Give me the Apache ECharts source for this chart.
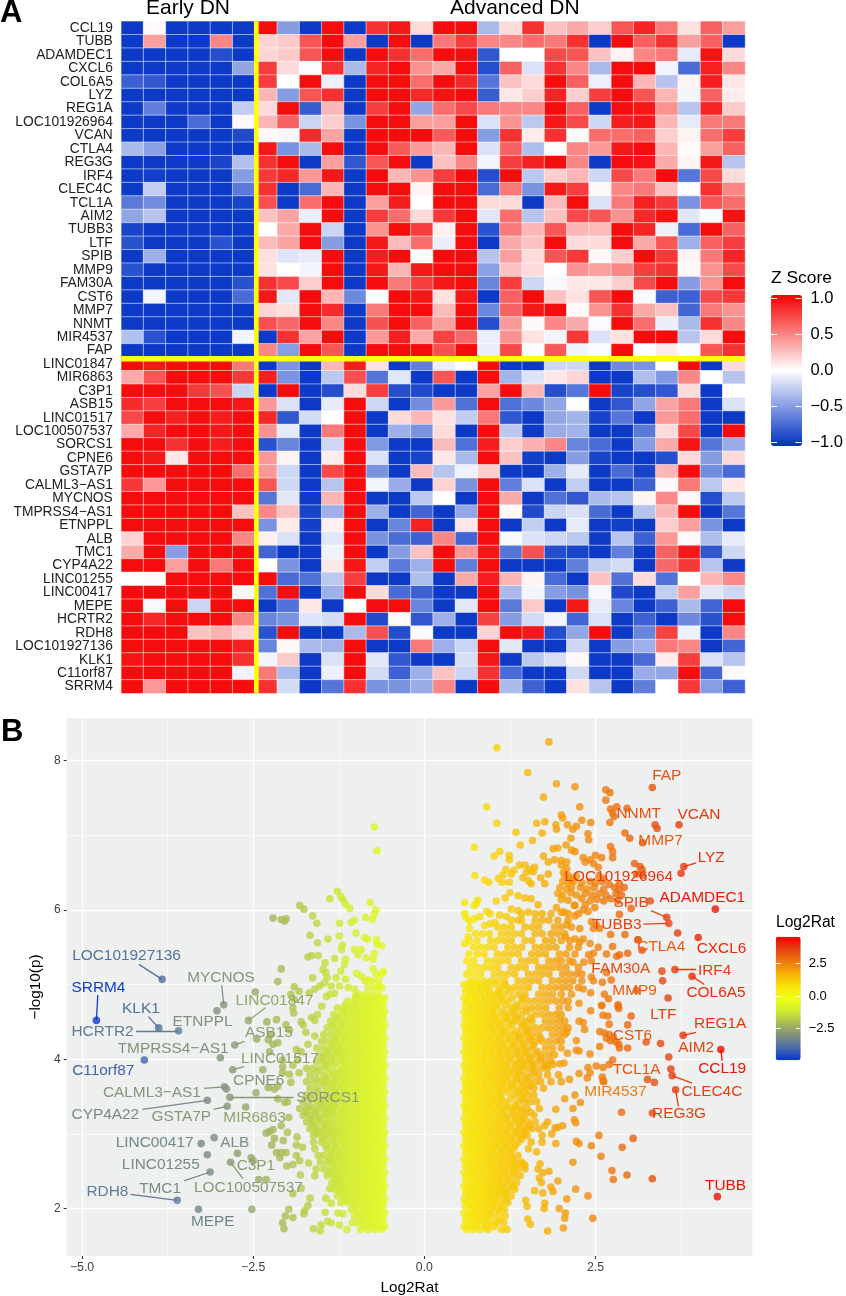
<!DOCTYPE html>
<html>
<head>
<meta charset="utf-8">
<style>
  html, body { margin: 0; padding: 0; background: #fff; }
  #main { width: 846px; height: 1296px; }
</style>
<script src="https://cdn.jsdelivr.net/npm/echarts@6/dist/echarts.min.js"></script>
</head>
<body>
<div id="main"></div>
<script>
var fontName = '"Liberation Sans", Arial, sans-serif';

// ---- panel A ----
var heatColumns = ['E1','E2','E3','E4','E5','E6','A1','A2','A3','A4','A5','A6','A7','A8','A9','A10','A11','A12','A13','A14','A15','A16','A17','A18','A19','A20','A21','A22'];
var upGenes = ['CCL19','TUBB','ADAMDEC1','CXCL6','COL6A5','LYZ','REG1A','LOC101926964','VCAN','CTLA4','REG3G','IRF4','CLEC4C','TCL1A','AIM2','TUBB3','LTF','SPIB','MMP9','FAM30A','CST6','MMP7','NNMT','MIR4537','FAP'];
var downGenes = ['LINC01847','MIR6863','C3P1','ASB15','LINC01517','LOC100507537','SORCS1','CPNE6','GSTA7P','CALML3\u2212AS1','MYCNOS','TMPRSS4\u2212AS1','ETNPPL','ALB','TMC1','CYP4A22','LINC01255','LINC00417','MEPE','HCRTR2','RDH8','LOC101927136','KLK1','C11orf87','SRRM4'];
var zTicks = [-1, -0.5, 0, 0.5, 1];

var upScores = [
  [-1,.02,-1,-1,-1,-1, 1,-.5,-1,1,-1,.85,.95,.15, 1,1,-.35,.15,.85,.25,.35,.2,.7,.9,.55,.12,.65,.4],
  [-1,.4,-1,-1,.5,-1, .18,.22,.7,1,.4,-1,1,-1, .55,.8,.5,.5,.6,.55,.85,-1,1,.65,.85,.4,.65,-1],
  [-1,-1,-1,-1,-.9,-1, .18,.22,.7,1,-1,1,.85,.6, 1,1,-.85,0,0,.75,.7,.25,.05,.5,.55,-.1,.97,.15],
  [-1,-1,-1,-1,-1,-.45, .8,.15,-.02,.85,-.35,.9,1,.45, .35,1,-.9,.65,-.15,.85,.5,-.35,1,1,-.05,-.75,.92,.5],
  [-.8,-.85,-1,-1,-1,-1, .8,0,1,-.08,-1,1,1,.6, 1,.88,-.7,.25,.15,1,.65,-.08,1,.3,-.3,.05,.93,.1],
  [-1,-1,-1,-1,-1,-1, .3,-.5,.7,.85,-1,1,1,.88, .97,1,-.82,.1,.2,.9,.2,.8,1,.7,.3,-.05,.65,.08],
  [-1,-.65,-1,-1,-1,-.25, .15,1,-.82,.3,-1,.8,1,-.45, .6,.75,.55,.5,.5,1,.65,-1,1,.95,.45,-.3,.9,.22],
  [-1,-1,-1,-.75,-1,.03, .3,.65,-.22,.2,-.55,1,1,.4, .4,1,-.15,.45,-.28,.95,.75,-.2,.93,.95,.3,-.1,.55,.55],
  [-1,-1,-1,-1,-1,-.92, .03,-.04,.87,.38,-1,1,1,1, .68,1,-.5,.85,.08,.85,.02,.6,.6,.65,.2,.05,.6,.8],
  [-.35,-.48,-1,-1,-1,-1, .95,-.55,-.35,1,-1,1,.68,.42, .3,1,-.15,.65,-.33,.01,.5,.42,.95,1,.3,.02,.4,.65],
  [-1,-1,-1,-1,-.95,-.32, .85,1,-1,.4,-.85,.7,1,-1, .25,.5,-.05,.8,.92,1,.5,-1,1,.97,.35,.04,.95,-.3],
  [-1,-.97,-1,-1,-1,-.5, .82,.88,.42,.95,-1,1,.3,.45, .8,1,-.9,1,-.28,.2,.3,-.2,.75,.55,1,-.7,.75,.15],
  [-1,-.25,-1,-1,-1,-.68, .85,-1,-.75,.3,-1,1,1,.04, 1,1,-.75,.55,-.55,.95,.8,.03,.5,.55,.25,0,.85,.5],
  [-.68,-.58,-1,-1,-1,-.95, .72,-1,.6,1,-1,.4,.93,0, 1,1,.15,.15,-1,.28,1,-.15,.55,.92,.82,-.55,.7,.6],
  [-.45,-.3,-1,-1,-1,-1, .25,.38,-.08,1,-1,.8,.6,.15, .82,1,-.12,.6,-.3,.25,.75,.7,.45,.88,.97,-.12,0,.97],
  [-.95,-1,-1,-1,-1,-1, 0,.35,1,-.22,-1,.45,1,.8, .06,1,-.88,.55,.3,.7,.3,.28,1,.9,-.07,-.75,1,.65],
  [-.88,-1,-1,-1,-.88,-1, .28,.38,1,-.5,-1,.95,.28,.6, -.08,1,-1,.35,.25,1,.15,.15,1,.35,.7,-.4,.65,.8],
  [-1,-.4,-1,-1,-1,-1, .13,-.13,-.1,1,-1,.93,1,0, 1,1,-.3,.4,.15,.7,.82,.02,.2,1,.82,.05,.55,.9],
  [-.88,-1,-1,-1,-1,-1, .12,.01,-.05,1,-1,.95,.3,.95, 1,1,-.48,.25,.15,0,.45,.4,.5,.8,.85,.03,.45,.75],
  [-1,-1,-1,-1,-1,-.88, .85,.75,.2,1,-1,1,.55,.8, .95,1,-.62,.8,-.2,-.03,.1,.1,.2,.75,1,-.5,.45,1],
  [-1,-.05,-1,-1,-1,-.75, .95,-.12,1,.3,-.6,0,1,.95, .12,.95,-1,.65,1,.25,.12,.7,1,-.02,-.8,-.8,.75,.82],
  [-1,-1,-1,-1,-1,-1, .18,.14,1,.87,-1,.55,1,1, .28,1,-.6,.65,.95,1,.02,.45,.85,.35,.25,-.78,.55,.45],
  [-1,-1,-1,-1,-1,-1, .72,.62,1,.5,-1,.72,1,.65, .4,1,-.9,.42,.03,.5,.35,-.02,1,.6,-.08,-.35,.85,.5],
  [-.32,-.88,-1,-1,-1,-.05, -1,.85,.38,1,-1,.42,.92,.35, .78,.62,-.08,.45,.12,-.05,.82,-.15,.12,1,1,-.3,.15,1],
  [-1,-1,-1,-1,-1,-1, .5,-.5,1,.7,-1,1,1,1, .72,1,-.08,.75,-.02,.68,-.06,-.02,1,0,.08,-.02,.7,.85]
];
var downScores = [
  [1,.95,1,1,1,.55, -1,-.55,-1,.3,.93,.12,-1,-.65, -.08,-.01,1,-1,-1,-.2,-.2,-1,-.6,-.55,0,1,-1,.15],
  [.35,.7,1,1,1,.82, .92,-.55,-1,-.28,.72,-.7,-.12,-1, .7,-1,1,-.38,-.13,.1,.18,-1,-1,-.33,-.52,.5,0,-.3],
  [1,1,1,.82,.72,-.22, -1,1,-1,-.9,.15,.8,-.9,-.92, -1,-1,.38,1,.3,-.9,-.7,1,-.95,-.9,-.85,.15,-1,0],
  [.87,.8,1,1,1,.95, .42,-.15,-1,-.1,1,-.2,-1,-.58, .42,-.72,1,-.72,-.6,-.45,0,-1,-.85,-.45,.38,.55,-1,-.15],
  [.75,1,.92,1,.93,1, .88,-.85,-.18,0,1,-1,.15,.3, .12,-.25,.55,-.85,-1,-.45,-.38,-.95,-.7,-1,.42,.6,-1,-1],
  [.35,.9,1,1,.95,1, .45,-.1,-1,.55,1,-1,-.4,-.55, .15,-1,1,-.28,-1,-.42,-.38,-1,-1,-.68,.15,.75,-1,1],
  [1,1,.85,1,.93,1, -.88,-.62,-1,-.2,1,-.52,-1,-1, .28,-.72,.93,.2,.33,.5,-.62,-.75,-1,-.5,.35,.97,-.7,-.42],
  [1,.95,.1,1,1,1, .42,.05,-1,.08,1,-.15,-1,-.95, .1,-.35,1,.25,-.97,-1,-.5,-.95,-1,-1,-.9,.15,-.5,.15],
  [1,1,1,1,1,.6, .42,-.2,-1,.75,1,-.55,-1,.28, -.3,-.07,.2,-1,-1,-.4,-.1,-1,-.75,-.95,.3,1,-.58,-.75],
  [.82,.42,1,1,1,1, .7,-.2,-1,-.3,1,-.05,-.42,-1, .18,-.55,1,-.65,-.15,-1,-.25,-1,-1,-.8,.03,.55,-.28,.1],
  [1,1,1,1,1,1, -.7,-.12,-1,.3,1,-1,-1,-.28, 0,-1,1,.35,-1,-.72,-.85,-.35,-.3,.04,.48,.03,-.9,-.28],
  [1,1,1,1,1,.25, .5,.25,-.95,-.4,1,-.4,-1,-.78, -1,-.45,1,.02,-.92,-.22,-.15,-.75,-1,-.3,.3,1,-1,-.7],
  [1,1,1,1,1,1, -.55,.08,-.97,.06,1,-1,-.62,.92, -1,.1,1,-1,-.25,-1,-.1,-1,-.97,-1,.2,.4,-.55,-1],
  [.18,1,1,1,1,.5, .06,-.15,-1,-.12,1,-.55,-.75,-.8, .5,-.78,1,-.03,-.15,-.2,-.28,-1,-.3,-.8,.42,.02,-.33,-.1],
  [.35,1,-.5,1,1,1, -.78,-1,-1,-.06,1,-1,-.5,.25, 1,.42,.95,-.7,.72,-.9,-.95,-1,-.65,-1,.65,.95,-.85,-.2],
  [1,1,.4,1,.55,1, 0,-.55,-1,.1,.95,-.25,-.68,-.4, 1,-.65,1,-1,-1,-1,-.65,-.25,-.18,-1,.62,.82,-.3,-1],
  [0,.02,1,1,1,1, 1,-.75,-.72,-.28,.8,-1,-1,-.33, -1,.35,.93,.3,.05,-.75,-1,.25,-.72,.15,-.72,0,.3,.48],
  [1,1,1,1,1,.03, -.72,1,-1,-.4,1,.15,-.75,-.8, -1,-1,1,-.35,-.05,-.5,-.55,-.03,-.92,-1,-.25,.4,-.12,-.2],
  [1,-.03,1,-.22,1,1, -1,-.72,.1,-1,0,1,1,-.62, -1,-.12,1,-.68,.22,-1,.95,-.1,-.62,-1,-.8,-.35,-.78,1],
  [1,.88,1,1,1,.5, -.62,-.55,-.13,-.18,1,-.92,.02,-.85, -.4,-1,.78,-.5,-.18,-.05,-.78,-.15,-1,-.8,-1,-.6,-.88,1],
  [1,1,1,.25,.32,.18, -.88,1,-1,-1,-.35,.72,-.9,.02, -1,-1,.18,1,.95,-.9,-.45,1,-1,-.62,.78,-.07,-1,.5],
  [1,1,1,1,1,.92, -.62,.03,-.35,-.38,1,-1,-1,.55, -.4,-.22,1,-.12,-1,-1,-.2,-1,-.5,-.4,.55,.5,-1,-.78],
  [.97,1,1,1,1,.85, -.05,.22,-1,-.15,1,-.12,-.85,-1, -1,-.17,.95,-1,-.28,-.17,.03,-1,-1,-.75,.08,.8,-.15,-.3],
  [1,1,1,1,1,-.06, .55,-.35,-1,-.07,1,-.18,-.8,-.4, .25,-.22,.85,-.75,-1,-1,-.2,-1,-1,-.42,-.45,1,-.78,.03],
  [1,.42,1,1,1,1, .85,-.18,-1,-.7,.85,-.55,-.55,-.42, .5,-1,1,-.35,-.8,-1,.12,-.3,-1,-.65,0,.82,-.5,-.8]
];

// ---- panel B: labelled genes ----
var labelNames = ['LOC101927136','SRRM4','KLK1','HCRTR2','ETNPPL','MYCNOS','LINC01847','ASB15','TMPRSS4\u2212AS1','LINC01517','C11orf87','CPNE6','CALML3\u2212AS1','SORCS1','CYP4A22','GSTA7P','MIR6863','LINC00417','ALB','LINC01255','C3P1','LOC100507537','TMC1','RDH8','MEPE','FAP','NNMT','MMP7','VCAN','LYZ','LOC101926964','ADAMDEC1','SPIB','TUBB3','CTLA4','CXCL6','FAM30A','IRF4','COL6A5','MMP9','LTF','REG1A','CST6','AIM2','CCL19','TCL1A','CLEC4C','MIR4537','REG3G','TUBB'];
var labelX = [-3.83,-4.79,-3.88,-3.59,-3.03,-2.93,-2.57,-2.77,-2.98,-2.80,-4.09,-2.89,-2.92,-2.84,-3.17,-2.88,-2.61,-3.26,-3.07,-3.17,-2.73,-2.83,-3.13,-3.61,-3.30,3.33,3.37,3.19,3.72,3.79,3.75,4.25,3.54,3.57,3.18,4.0,3.47,3.66,3.91,3.10,3.56,3.78,3.24,3.57,4.33,3.26,3.62,2.61,3.67,4.28];
var labelY = [5.07,4.52,4.42,4.38,4.65,4.73,4.52,4.19,4.02,3.86,3.99,3.60,3.63,3.49,3.45,3.37,3.36,2.87,2.95,2.72,2.74,2.62,2.49,2.11,1.99,7.64,7.14,6.90,7.14,6.58,6.49,6.01,5.90,5.82,5.46,5.63,5.18,5.20,5.11,4.92,4.82,4.32,4.23,4.03,4.13,3.73,3.78,3.71,3.59,2.16];
var textX = [-4.35,-4.76,-4.14,-4.70,-3.24,-2.97,-2.19,-2.27,-3.67,-2.11,-4.69,-2.42,-3.98,-1.41,-4.66,-3.55,-2.48,-3.94,-2.77,-3.85,-2.46,-2.57,-3.86,-4.63,-3.09,3.54,3.13,3.45,4.01,4.19,2.84,4.06,3.02,2.81,3.46,4.34,2.87,4.24,4.26,3.07,3.49,4.32,3.04,3.97,4.35,3.10,4.20,2.79,3.72,4.40];
var textY = [5.38,4.96,4.67,4.37,4.50,5.09,4.79,4.35,4.14,4.0,3.84,3.71,3.55,3.49,3.26,3.23,3.21,2.88,2.88,2.59,2.58,2.28,2.26,2.23,1.83,7.79,7.29,6.93,7.28,6.70,6.45,6.16,6.10,5.80,5.50,5.48,5.21,5.18,4.89,4.92,4.60,4.48,4.31,4.16,3.87,3.86,3.57,3.57,3.27,2.30];
// where each leader line leaves its label, null when there is none
var leadX = [-4.17,-4.77,-4.03,-4.21,null,-2.96,-2.32,-2.63,null,-2.63,null,null,-3.22,-1.91,-4.12,-3.08,null,null,null,null,null,-2.65,-3.51,-4.29,null,null,null,null,null,3.97,null,null,3.31,3.20,null,null,null,3.97,4.09,null,null,3.97,null,null,4.35,null,3.91,null,3.71,null];
var leadY = [5.27,4.86,4.57,4.38,null,4.99,4.69,4.24,null,3.90,null,null,3.61,3.49,3.33,3.33,null,null,null,null,null,2.40,2.37,2.19,null,null,null,null,null,6.63,null,null,5.99,5.81,null,null,null,5.20,5.0,null,null,4.36,null,null,3.98,null,3.68,null,3.37,null];

// ---- panel B: scattered points read one by one, [log2 ratio, -log10 p] ----
var loosePoints = [
  [1.06,8.17],[1.82,8.25],[1.51,7.84],[1.93,7.69],[2.20,7.65],[1.74,7.51],[2.65,7.61],[2.71,7.57],[2.65,7.47],[2.27,7.38],[.91,7.38],[1.06,7.16],
  [2.72,7.35],[2.81,7.38],[2.96,7.36],[2.75,7.30],[2.77,7.25],[2.0,7.27],[2.02,7.23],[1.64,7.16],[1.76,7.18],[1.92,7.14],[1.93,7.08],[2.09,7.14],[2.22,7.12],[2.17,7.08],
  [2.30,7.2],[2.43,7.17],[2.71,7.17],[3.40,7.09],[1.34,7.04],[1.72,7.03],[2.39,7.02],[2.40,6.94],[2.93,7.03],[3.0,6.96],[2.14,6.96],[1.58,6.93],[1.40,6.87],[.73,6.84],
  [1.10,6.78],[1.02,6.72],[1.24,6.73],[1.24,6.67],[2.72,6.85],[2.75,6.78],[2.75,6.7],[1.88,6.82],[1.95,6.83],[2.07,6.87],[2.15,6.8],[2.2,6.78],
  [1.74,6.72],[1.81,6.64],[1.9,6.67],[2.0,6.66],[2.08,6.64],[2.32,6.7],[2.42,6.67],[2.5,6.73],[2.59,6.7],[2.35,6.64],[2.47,6.62],[2.54,6.57],
  [3.07,6.62],[3.15,6.58],[3.18,6.54],[3.1,6.48],[3.19,6.46],[1.39,6.6],[1.47,6.6],[1.31,6.53],[1.19,6.54],[1.15,6.47],[1.61,6.57],[1.59,6.51],
  [.74,6.46],[.88,6.40],[.94,6.37],[1.08,6.42],[1.14,6.37],[1.27,6.48],[1.24,6.37],[1.49,6.5],[1.54,6.54],[1.44,6.43],[1.52,6.39],[1.56,6.35],[1.7,6.43],[1.81,6.48],[1.76,6.35],
  [2.0,6.6],[2.08,6.55],[2.03,6.5],[2.1,6.46],[2.15,6.4],[2.22,6.45],[3.30,6.12],
  [2.05,6.45],[2.12,6.43],[2.55,6.45],[2.62,6.42],[2.02,6.38],[2.1,6.36],[2.18,6.38],[2.3,6.36],[2.42,6.38],[2.5,6.36],[2.6,6.38],[2.7,6.34],[2.85,6.35],
  [1.98,6.3],[2.08,6.28],[2.15,6.3],[2.28,6.3],[2.38,6.28],[2.48,6.3],[2.62,6.28],[2.78,6.3],[2.84,6.27],[2.92,6.3],[1.95,6.22],[2.02,6.2],[2.14,6.23],[2.22,6.2],[2.35,6.22],[2.45,6.2],[2.55,6.22],[2.65,6.2],[2.8,6.22],[2.88,6.2],
  [2.0,6.14],[2.1,6.13],[2.3,6.15],[2.42,6.12],[2.52,6.14],[2.62,6.12],[2.72,6.15],[2.82,6.12],
  [.59,6.1],[.78,6.13],[.73,6.06],[.76,6.09],[.91,5.98],[.96,5.95],[.59,5.95],[.61,5.9],[.66,5.85],[.73,5.88],[.81,5.91],[.66,5.75],[.75,5.68],[.64,5.64],[.59,5.55],[.66,5.58],
  [.88,5.79],[.96,5.81],[1.03,5.83],[1.1,5.93],[1.2,5.91],[1.05,6.12],[1.18,6.16],[1.25,6.23],[1.37,6.19],[1.47,6.16],[1.56,6.15],[1.27,6.01],[1.37,5.99],[1.52,5.97],[1.66,6.07],[1.93,6.03],[2.2,6.06],[2.04,5.97],
  [2.49,6.03],[2.19,6.06],[2.0,5.97],[2.35,6.07],[2.32,6.0],[2.39,5.98],[2.44,5.84],[2.51,5.8],[2.47,5.75],[2.56,5.75],[2.08,5.8],[2.27,5.75],[2.2,5.92],[2.06,5.64],[2.2,5.61],[2.27,5.57],[2.42,5.55],[2.47,5.42],[2.17,5.3],[2.0,5.32],[2.32,5.61],
  [2.85,5.94],[3.02,6.02],[2.93,5.67],[2.72,5.67],[3.12,5.6],[2.75,5.51],[2.97,5.42],[2.66,5.41],[2.81,5.38],[2.85,5.4],[2.54,5.5],[2.4,5.4],[2.44,5.32],[2.33,5.3],[2.44,5.1],[2.47,5.05],[2.6,5.03],[2.73,5.06],[2.66,5.16],[2.63,4.87],[2.69,4.81],[2.83,4.73],[2.59,4.72],[2.43,4.89],[2.32,4.94],[2.26,4.75],
  [3.48,5.05],[3.70,5.69],[3.12,5.6],[3.45,4.21],[3.36,3.69],[3.60,3.87],[3.33,3.28],[2.88,3.29],
  [3.02,4.58],[2.97,4.46],[2.7,4.47],[2.85,4.15],[2.97,4.15],[2.56,4.17],[2.42,4.07],[2.75,3.99],[2.7,3.93],[2.51,3.91],[2.61,3.89],[2.39,3.89],[2.42,3.82],[2.26,3.81],[2.12,3.73],[2.0,3.7],[2.38,3.75],[2.6,3.76],[2.62,3.7],[2.22,4.12],[2.26,4.11],[2.09,4.08],[2.04,3.95],[1.98,3.94],[1.88,3.93],[1.77,3.91],
  [2.08,4.36],[2.22,4.25],[2.32,4.49],[2.34,4.4],[2.26,4.51],[2.43,4.65],[2.61,4.59],[2.68,4.58],[2.83,4.71],[2.84,4.68],[2.59,4.72],[2.56,4.37],[2.63,4.35],[2.7,4.33],[2.76,4.3],[2.66,4.28],[2.72,4.25],[2.8,4.23],[2.84,4.2],
  [2.55,2.98],[3.05,2.94],[2.89,2.82],[2.44,2.84],[2.58,2.7],[2.22,2.9],[2.26,2.87],[2.74,2.51],[2.96,2.45],[3.33,2.4],[2.76,2.39],[2.21,2.26],[2.39,2.17],[2.08,2.13],[2.46,1.87],[1.97,2.0],[2.06,1.94],[2.05,1.87],[1.8,1.7],[2.03,1.74],[1.75,2.0],[1.51,1.86],[1.55,1.79],[1.48,2.11],[1.5,2.03],
  [2.19,3.19],[2.21,3.15],[2.02,3.11],[1.91,3.08],[1.86,3.0],[2.2,3.52],[2.28,3.42],[2.05,3.47],[1.92,3.33],[2.17,3.34],[1.76,3.11],[1.95,3.09],[1.92,2.87],[2.17,2.62],[1.95,2.37],[1.82,2.5],[1.68,2.41],[1.71,2.35],[1.85,2.29],[1.61,2.24],[1.73,2.21],[1.88,2.23],[1.76,2.07],[1.64,2.76],[1.69,2.6],[1.66,2.53],[1.73,2.48],[1.44,2.6],[1.47,2.58],
  [-1.27,6.25],[-1.38,6.15],[-1.22,6.18],[-1.19,6.14],[-1.15,6.08],[-1.09,6.02],[-.79,6.1],[-.71,6.0],[-.73,5.94],[-.86,5.9],[-.76,5.87],[-1.82,6.06],[-1.76,6.01],[-1.63,5.92],[-1.57,5.82],[-2.21,5.89],[-2.09,5.87],[-2.04,5.85],[-2.02,5.88],
  [-1.24,5.82],[-1.07,5.83],[-1.02,5.86],[-1.0,5.69],[-.87,5.63],[-.83,5.61],[-1.67,5.66],[-1.56,5.56],[-1.41,5.61],[-1.24,5.65],[-1.2,5.53],[-1.21,5.47],[-.7,5.6],[-.69,5.54],[-.62,5.52],[-.73,7.11],[-.69,6.79],
  [-1.02,5.47],[-.92,5.47],[-.97,5.4],[-.85,5.36],[-.73,5.42],[-.75,5.34],[-1.7,5.37],[-1.65,5.39],[-1.55,5.39],[-1.31,5.35],[-1.15,5.34],[-1.17,5.27],[-1.45,5.29],[-2.09,5.21],[-2.14,5.04],[-1.48,5.2],[-1.44,5.16],[-1.42,5.09],[-1.63,5.09],
  [-1.22,5.18],[-1.29,5.09],[-1.15,5.07],[-1.11,4.96],[-.99,5.15],[-.92,5.11],[-.82,5.06],[-.75,5.21],[-.6,5.17],[-.66,4.97],[-1.46,5.02],[-1.53,4.98],[-1.6,4.94],[-1.68,4.89],[-1.36,4.98],[-1.24,4.98],
  [-1.9,4.97],[-1.83,4.91],[-1.95,4.87],[-1.9,4.8],[-1.92,4.69],[-1.91,4.62],[-1.38,4.87],[-1.31,4.88],[-1.43,4.84],[-1.02,4.94],[-1.0,4.85],[-2.47,4.9],[-1.5,4.71],[-1.56,4.6],
  [-2.3,4.5],[-2.16,4.53],[-2.02,4.46],[-1.97,4.39],[-1.8,4.5],[-1.77,4.46],[-2.28,4.26],[-2.24,4.33],[-2.21,4.2],[-2.14,4.22],[-2.45,4.27],[-2.26,4.1],[-2.07,3.99],[-2.07,3.9],[-1.92,3.92],[-1.85,3.99],[-1.8,4.1],[-1.87,4.13],[-1.7,4.2],[-1.73,4.36],[-1.6,4.31],[-1.6,4.52],[-1.65,4.56],
  [-2.36,3.86],[-2.28,3.62],[-2.19,3.6],[-2.14,3.64],[-2.07,3.82],[-1.97,3.8],[-1.95,3.69],[-1.83,3.82],
  [-2.46,3.55],[-2.14,3.47],[-2.04,3.42],[-2.0,3.43],[-1.98,3.22],[-2.09,3.11],[-2.31,3.01],[-2.26,3.03],[-2.21,3.06],[-2.19,2.94],[-2.23,2.85],[-2.06,2.91],[-2.0,3.02],[-1.86,2.96],[-1.87,2.85],[-1.78,2.82],[-2.16,2.75],[-2.09,2.75],[-2.11,2.68],[-2.02,2.75],[-2.01,2.57],[-1.92,2.59],[-1.87,2.71],[-1.82,2.64],[-1.69,2.61],[-1.81,2.45],[-2.53,2.68],[-2.5,2.64],[-2.42,2.39],[-2.31,2.39],
  [-1.92,2.2],[-1.8,2.27],[-2.52,1.99],[-1.98,1.99],[-1.67,2.14],[-1.7,2.04],[-1.75,1.97],[-1.76,1.93],[-1.92,1.88],[-2.03,1.9],[-2.07,1.81],[-2.05,1.73],[-1.62,1.73],[-1.52,1.7],[-1.51,1.78],[-1.45,1.95],[-1.41,1.83],[-1.36,1.81],[-1.24,1.78],[-1.13,1.72],[-1.26,1.94],[-1.19,1.93],[-1.44,2.14],[-1.38,2.27],[-1.36,2.07]
];

// the packed middle of the plot, read as rows: [-log10 p, [log2 ratios along that row]]
var denseRight = [
  [1.72,[.62,.72,.82,.93,1.13,1.21]],
  [1.81,[.67,.77,.87,.97,1.06,1.16]],
  [1.9,[.62,.72,.82,.92,1.02,1.18]],
  [1.99,[.67,.77,.87,.97,1.07,1.17]],
  [2.08,[.62,.72,.82,.92,1.02,1.12,1.22]],
  [2.17,[.67,.77,.87,.97,1.07,1.17,1.27]],
  [2.26,[.62,.72,.82,.92,1.02,1.12,1.22,1.32]],
  [2.35,[.67,.77,.87,.97,1.07,1.17,1.27,1.35]],
  [2.44,[.62,.72,.82,.92,1.02,1.12,1.22,1.32,1.4]],
  [2.53,[.67,.77,.87,.97,1.07,1.17,1.27,1.37,1.47]],
  [2.62,[.62,.72,.82,.92,1.02,1.12,1.22,1.32,1.42]],
  [2.71,[.67,.77,.87,.97,1.07,1.17,1.27,1.37]],
  [2.8,[.62,.72,.82,.92,1.02,1.12,1.22,1.3,1.52]],
  [2.89,[.67,.77,.87,.97,1.07,1.17,1.27,1.37,1.56,1.72]],
  [2.98,[.62,.72,.82,.92,1.02,1.12,1.22,1.32,1.42,1.5,1.72]],
  [3.07,[.67,.77,.87,.97,1.07,1.17,1.27,1.37,1.47,1.57,1.67]],
  [3.16,[.62,.72,.82,.92,1.02,1.12,1.22,1.32,1.42,1.52,1.62,1.8]],
  [3.25,[.67,.77,.87,.97,1.07,1.17,1.27,1.37,1.47,1.6]],
  [3.34,[.62,.72,.82,.92,1.02,1.12,1.22,1.32,1.42,1.5,1.68]],
  [3.43,[.67,.77,.87,.97,1.07,1.17,1.37,1.47,1.55,1.64]],
  [3.52,[.62,.72,.82,.92,1.02,1.12,1.32,1.42,1.52,1.6]],
  [3.61,[.67,.77,.87,.97,1.07,1.17,1.27,1.37,1.5,1.6,1.74]],
  [3.7,[.62,.72,.82,.92,1.02,1.12,1.22,1.32,1.42,1.52,1.62,1.7,1.85]],
  [3.79,[.67,.77,.87,.97,1.07,1.17,1.27,1.37,1.47,1.57,1.67,1.8,1.96]],
  [3.88,[.62,.72,.82,.92,1.02,1.12,1.22,1.32,1.42,1.52,1.62,1.72,1.8]],
  [3.97,[.67,.77,.87,.97,1.07,1.17,1.27,1.37,1.47,1.57,1.67,1.77,1.85]],
  [4.06,[.62,.72,.82,.92,1.02,1.12,1.22,1.32,1.42,1.52,1.62,1.72,1.82,1.9]],
  [4.15,[.67,.77,.87,.97,1.07,1.17,1.27,1.37,1.47,1.57,1.77,1.87,2.0]],
  [4.24,[.62,.72,.82,.92,1.02,1.12,1.22,1.32,1.42,1.52,1.62,1.72,1.82,1.92,2.0]],
  [4.33,[.67,.77,.87,.97,1.07,1.17,1.27,1.37,1.47,1.57,1.67,1.87,1.97,2.05]],
  [4.42,[.62,.72,.82,.92,1.02,1.12,1.22,1.42,1.52,1.62,1.72,1.82,1.92,2.02,2.1]],
  [4.51,[.67,.77,.87,.97,1.07,1.17,1.27,1.37,1.47,1.57,1.77,1.87,1.97,2.05]],
  [4.6,[.62,.72,.82,.92,1.02,1.12,1.22,1.32,1.42,1.62,1.72,1.82,1.92,2.0]],
  [4.69,[.67,.77,.87,.97,1.07,1.27,1.37,1.47,1.57,1.67,1.77,1.97,2.1]],
  [4.78,[.62,.72,.82,.92,1.02,1.12,1.22,1.42,1.52,1.62,1.72,1.82,1.92,2.02,2.1]],
  [4.87,[.67,.77,.87,.97,1.07,1.17,1.37,1.47,1.67,1.77,1.87,2.0,2.15]],
  [4.96,[.62,.72,.82,.92,1.12,1.22,1.32,1.42,1.52,1.72,1.82,1.92,2.02,2.12,2.25]],
  [5.05,[.67,.77,.87,.97,1.07,1.17,1.37,1.47,1.57,1.67,1.87,1.97,2.07,2.17,2.3]],
  [5.14,[.62,.72,.82,1.02,1.12,1.22,1.32,1.52,1.62,1.72,1.82,2.02,2.12,2.22,2.3]],
  [5.23,[.67,.77,.87,.97,1.07,1.27,1.37,1.47,1.67,1.77,1.87,1.97,2.07,2.25]],
  [5.32,[.62,.72,.92,1.02,1.12,1.22,1.42,1.52,1.62,1.82,1.92,2.12]],
  [5.41,[.65,.77,.87,1.07,1.17,1.27,1.37,1.57,1.67,1.77,1.97,2.07,2.2]],
  [5.5,[.72,.82,.92,1.02,1.22,1.32,1.42,1.62,1.72,1.82,1.92,2.12,2.25]],
  [5.59,[.77,.97,1.07,1.17,1.27,1.47,1.57,1.77,1.87,2.0,2.12]],
  [5.68,[.85,.95,1.12,1.22,1.32,1.42,1.62,1.72,1.85,1.95,2.05]],
  [5.77,[1.07,1.17,1.27,1.47,1.57,1.67,1.9,2.0,2.15]],
  [5.86,[1.27,1.37,1.42,1.62,1.72,1.82,1.95,2.1]],
  [5.95,[1.42,1.62,1.72,1.85,2.1,2.25]],
  // second pass between the rows above
  [1.76,[.58,.65,.75,.9,1.02]],
  [1.85,[.6,.7,.8,.91,1.1]],
  [1.94,[.58,.68,.76,.86,.96,1.1]],
  [2.03,[.6,.7,.79,.89,1.0,1.12]],
  [2.12,[.58,.65,.75,.84,.93,1.04,1.2]],
  [2.21,[.6,.7,.78,.88,.97,1.09,1.18]],
  [2.3,[.58,.67,.76,.86,.95,1.05,1.15,1.29]],
  [2.39,[.6,.7,.79,.9,1.0,1.1,1.22]],
  [2.48,[.58,.66,.75,.85,.96,1.06,1.17,1.3]],
  [2.57,[.6,.7,.8,.9,1.0,1.12,1.24,1.34]],
  [2.66,[.58,.67,.78,.87,.97,1.08,1.18,1.3]],
  [2.75,[.6,.7,.8,.9,1.01,1.13,1.25]],
  [2.84,[.58,.67,.77,.86,.96,1.06,1.18,1.33]],
  [2.93,[.6,.7,.8,.91,1.03,1.14,1.26,1.42]],
  [3.02,[.58,.66,.76,.86,.97,1.08,1.2,1.35,1.47]],
  [3.11,[.6,.7,.81,.9,1.02,1.12,1.25,1.4,1.53]],
  [3.2,[.58,.68,.77,.87,.97,1.09,1.2,1.34,1.44]],
  [3.29,[.6,.7,.8,.92,1.03,1.15,1.29,1.42,1.55]],
  [3.38,[.58,.67,.77,.88,.98,1.1,1.22,1.33]],
  [3.47,[.6,.7,.8,.91,1.02,1.12,1.26,1.43]],
  [3.56,[.58,.67,.78,.87,.97,1.09,1.22,1.37,1.46]],
  [3.65,[.6,.7,.8,.9,1.02,1.14,1.28,1.44,1.55]],
  [3.74,[.58,.67,.77,.88,.98,1.1,1.2,1.35,1.5]],
  [3.83,[.6,.7,.8,.92,1.03,1.15,1.26,1.38,1.6]],
  [3.92,[.58,.68,.78,.87,.97,1.08,1.19,1.34,1.45,1.58]],
  [4.01,[.6,.7,.81,.9,1.02,1.13,1.25,1.4,1.54,1.7]],
  [4.1,[.58,.67,.77,.88,.98,1.1,1.22,1.36,1.48,1.65]],
  [4.19,[.6,.7,.8,.92,1.03,1.15,1.3,1.44,1.6]],
  [4.28,[.58,.68,.78,.87,.97,1.1,1.24,1.38,1.55,1.7]],
  [4.37,[.6,.7,.8,.9,1.02,1.15,1.33,1.5]],
  [4.46,[.58,.67,.78,.88,.98,1.1,1.28,1.45]],
  [4.55,[.6,.7,.81,.92,1.04,1.2,1.34,1.55]],
  [4.64,[.58,.68,.78,.88,1.0,1.16,1.3,1.5]],
  [4.73,[.6,.7,.8,.92,1.04,1.18,1.34]],
  [4.82,[.58,.66,.76,.88,1.0,1.12,1.28,1.44]],
  [4.91,[.6,.7,.82,.95,1.08,1.26]],
  [5.0,[.58,.68,.78,.9,1.02,1.18]]
];
var denseLeft = [
  [1.72,[-.62,-.72,-.82,-.93]],
  [1.81,[-.67,-.77,-.87,-.97,-1.05]],
  [1.9,[-.62,-.72,-.82,-.92,-1.02]],
  [1.99,[-.67,-.77,-.87,-.97,-1.07]],
  [2.08,[-.62,-.72,-.82,-.92,-1.02,-1.12,-1.22]],
  [2.17,[-.67,-.77,-.87,-.97,-1.07,-1.17,-1.27]],
  [2.26,[-.62,-.72,-.82,-.92,-1.02,-1.12,-1.22,-1.31]],
  [2.35,[-.67,-.77,-.87,-.97,-1.07,-1.17,-1.27,-1.35]],
  [2.44,[-.62,-.72,-.82,-.92,-1.02,-1.12,-1.22,-1.32,-1.42,-1.6]],
  [2.53,[-.67,-.77,-.87,-.97,-1.07,-1.17,-1.27,-1.37,-1.47,-1.58]],
  [2.62,[-.62,-.72,-.82,-.92,-1.02,-1.12,-1.22,-1.32,-1.42,-1.52]],
  [2.71,[-.67,-.77,-.87,-.97,-1.07,-1.17,-1.27,-1.37,-1.47,-1.55]],
  [2.8,[-.62,-.72,-.82,-.92,-1.02,-1.12,-1.22,-1.32,-1.42,-1.6]],
  [2.89,[-.67,-.77,-.87,-.97,-1.07,-1.17,-1.27,-1.37,-1.5,-1.62]],
  [2.98,[-.62,-.72,-.82,-.92,-1.02,-1.12,-1.22,-1.32,-1.42,-1.52,-1.62]],
  [3.07,[-.67,-.77,-.87,-.97,-1.07,-1.17,-1.27,-1.37,-1.47,-1.57,-1.67]],
  [3.16,[-.62,-.72,-.82,-.92,-1.02,-1.12,-1.22,-1.32,-1.42,-1.52,-1.62,-1.72]],
  [3.25,[-.67,-.77,-.87,-.97,-1.07,-1.17,-1.27,-1.37,-1.47,-1.57,-1.67,-1.77]],
  [3.34,[-.62,-.72,-.82,-.92,-1.02,-1.12,-1.22,-1.32,-1.42,-1.52,-1.62,-1.72,-1.82]],
  [3.43,[-.67,-.77,-.87,-.97,-1.07,-1.17,-1.27,-1.37,-1.47,-1.57,-1.77]],
  [3.52,[-.62,-.72,-.82,-.92,-1.02,-1.12,-1.22,-1.32,-1.42,-1.62,-1.72]],
  [3.61,[-.67,-.77,-.87,-.97,-1.07,-1.17,-1.27,-1.37,-1.57,-1.67]],
  [3.7,[-.62,-.72,-.82,-.92,-1.02,-1.12,-1.22,-1.32,-1.42,-1.52,-1.62,-1.72]],
  [3.79,[-.67,-.77,-.87,-.97,-1.07,-1.17,-1.27,-1.37,-1.47,-1.67]],
  [3.88,[-.62,-.72,-.82,-.92,-1.02,-1.12,-1.22,-1.42,-1.52,-1.62,-1.72]],
  [3.97,[-.67,-.77,-.87,-.97,-1.07,-1.17,-1.27,-1.37,-1.47,-1.57]],
  [4.06,[-.62,-.72,-.82,-.92,-1.02,-1.12,-1.22,-1.32,-1.42,-1.52]],
  [4.15,[-.67,-.77,-.87,-.97,-1.07,-1.17,-1.27,-1.37,-1.47,-1.57]],
  [4.24,[-.62,-.72,-.82,-.92,-1.02,-1.12,-1.22,-1.32,-1.42,-1.5]],
  [4.33,[-.67,-.77,-.87,-.97,-1.07,-1.17,-1.27,-1.37,-1.47]],
  [4.42,[-.62,-.72,-.82,-.92,-1.02,-1.12,-1.22,-1.32,-1.42]],
  [4.51,[-.67,-.77,-.87,-.97,-1.07,-1.17,-1.27,-1.37]],
  [4.6,[-.62,-.72,-.82,-.92,-1.02,-1.12,-1.22,-1.32]],
  [4.69,[-.67,-.77,-.87,-.97,-1.07,-1.17,-1.27]],
  [4.78,[-.62,-.72,-.82,-.92,-1.02,-1.12]],
  [4.87,[-.67,-.77,-.87,-.97]],
  [4.96,[-.62,-.72,-.82]],
  [5.05,[-.67,-.77,-.87]],
  [5.14,[-.62,-.7]],
  // second pass between the rows above
  [1.76,[-.58,-.66,-.77,-.88]],
  [1.85,[-.6,-.7,-.8,-.92]],
  [1.94,[-.58,-.67,-.78,-.88,-.98]],
  [2.03,[-.6,-.7,-.8,-.9,-1.02]],
  [2.12,[-.58,-.66,-.77,-.87,-.97,-1.08,-1.17]],
  [2.21,[-.6,-.7,-.8,-.9,-1.0,-1.12,-1.22]],
  [2.3,[-.58,-.67,-.77,-.88,-.97,-1.07,-1.18,-1.27]],
  [2.39,[-.6,-.7,-.8,-.9,-1.0,-1.1,-1.22,-1.3]],
  [2.48,[-.58,-.66,-.77,-.87,-.97,-1.08,-1.17,-1.28,-1.38]],
  [2.57,[-.6,-.7,-.8,-.9,-1.0,-1.12,-1.22,-1.33]],
  [2.66,[-.58,-.67,-.78,-.88,-.97,-1.08,-1.18,-1.28,-1.38]],
  [2.75,[-.6,-.7,-.8,-.9,-1.01,-1.12,-1.24,-1.35]],
  [2.84,[-.58,-.66,-.77,-.87,-.97,-1.07,-1.17,-1.3,-1.44]],
  [2.93,[-.6,-.7,-.8,-.9,-1.0,-1.12,-1.22,-1.33,-1.47]],
  [3.02,[-.58,-.67,-.78,-.88,-.97,-1.08,-1.18,-1.28,-1.38,-1.5,-1.58]],
  [3.11,[-.6,-.7,-.8,-.9,-1.01,-1.12,-1.23,-1.35,-1.45,-1.62]],
  [3.2,[-.58,-.66,-.77,-.87,-.97,-1.07,-1.17,-1.27,-1.4,-1.53,-1.66]],
  [3.29,[-.6,-.7,-.8,-.9,-1.0,-1.12,-1.22,-1.34,-1.44,-1.6,-1.73]],
  [3.38,[-.58,-.67,-.78,-.88,-.97,-1.08,-1.18,-1.3,-1.4,-1.52,-1.68]],
  [3.47,[-.6,-.7,-.8,-.9,-1.01,-1.12,-1.24,-1.35,-1.5,-1.66]],
  [3.56,[-.58,-.66,-.77,-.87,-.97,-1.07,-1.17,-1.3,-1.44,-1.55]],
  [3.65,[-.6,-.7,-.8,-.9,-1.0,-1.12,-1.22,-1.35,-1.47]],
  [3.74,[-.58,-.67,-.78,-.88,-.97,-1.08,-1.18,-1.3,-1.45,-1.58]],
  [3.83,[-.6,-.7,-.8,-.9,-1.01,-1.12,-1.24,-1.33,-1.57]],
  [3.92,[-.58,-.66,-.77,-.87,-.97,-1.07,-1.17,-1.32,-1.44]],
  [4.01,[-.6,-.7,-.8,-.9,-1.0,-1.12,-1.22,-1.36,-1.48]],
  [4.1,[-.58,-.67,-.78,-.88,-.97,-1.08,-1.18,-1.28,-1.42]],
  [4.19,[-.6,-.7,-.8,-.9,-1.01,-1.12,-1.24,-1.35]],
  [4.28,[-.58,-.66,-.77,-.87,-.97,-1.07,-1.17,-1.3]],
  [4.37,[-.6,-.7,-.8,-.9,-1.0,-1.12,-1.25]],
  [4.46,[-.58,-.67,-.78,-.88,-.97,-1.08,-1.2,-1.33]],
  [4.55,[-.6,-.7,-.8,-.9,-1.01,-1.14,-1.27]],
  [4.64,[-.58,-.66,-.77,-.87,-.97,-1.07,-1.18]],
  [4.73,[-.6,-.7,-.8,-.9,-1.03,-1.15]],
  [4.82,[-.58,-.67,-.78,-.88,-1.0]]
];
var ratioTicks = [-5, -2.5, 0, 2.5];
var pTicks = [2, 4, 6, 8];
var ratioMinor = [-3.75, -1.25, 1.25, 3.75];
var pMinor = [3, 5, 7];
var legendRatioTicks = [-2.5, 0, 2.5];
var ratioStops = ['#0533d8','#4a6aa8','#7f9080','#a8bb55','#d2ec30','#eeff18','#f8e20a','#f6b008','#ee7a0e','#e64010','#f00000'];
var ratioMin = -4.95, ratioMax = 4.56;

var allGenes = upGenes.concat(downGenes);
var allScores = upScores.concat(downScores);
var heatData = [];
allScores.forEach(function (row, r) {
  row.forEach(function (v, c) { heatData.push([c, r, v]); });
});

function ratioColor(x) {
  return echarts.color.lerp((x - ratioMin) / (ratioMax - ratioMin), ratioStops);
}

var scatterData = loosePoints.slice();
denseRight.concat(denseLeft).forEach(function (row) {
  row[1].forEach(function (x) { scatterData.push([x, row[0]]); });
});
var leaderData = [];
var labelData = [];
labelNames.forEach(function (name, i) {
  var col = ratioColor(labelX[i]);
  scatterData.push([labelX[i], labelY[i]]);
  labelData.push({ name: name, value: [textX[i], textY[i]], label: { color: col } });
  if (leadX[i] !== null) {
    leaderData.push({ coords: [[leadX[i], leadY[i]], [labelX[i], labelY[i]]], lineStyle: { color: col } });
  }
});

function textBlock(text, left, top, size, weight) {
  return { text: text, left: left, top: top, padding: 0, textStyle: { fontFamily: fontName, fontSize: size, fontWeight: weight || 'normal', color: '#000' } };
}
function minusFormat(digits) {
  return function (v) {
    var s = digits === null ? String(v) : v.toFixed(digits);
    return s.replace('-', '\u2212');
  };
}

var option = {
  animation: false,
  backgroundColor: '#fff',
  textStyle: { fontFamily: fontName },
  title: [
    textBlock('A', 0, -2, 31, 'bold'),
    textBlock('Early DN', 146, -2, 21),
    textBlock('Advanced DN', 450, -2, 21),
    textBlock('Z Score', 771, 270, 17.4),
    textBlock('B', 1, 717, 31, 'bold'),
    textBlock('Log2Rat', 776, 915, 15.6)
  ],
  grid: [
    { left: 121.3, top: 21.3, width: 623.7, height: 672 },
    { left: 66.7, top: 718, width: 685.6, height: 538.7, backgroundColor: '#eeefef', show: true, borderWidth: 0 },
    { left: 771, top: 295, width: 31, height: 151 },
    { left: 775.7, top: 936.7, width: 25, height: 123.6 }
  ],
  xAxis: [
    { gridIndex: 0, type: 'category', data: heatColumns, show: false },
    {
      gridIndex: 1, type: 'value', min: -5.224, max: 4.79,
      name: 'Log2Rat', nameLocation: 'middle', nameGap: 24,
      nameTextStyle: { fontSize: 15.3, color: '#000' },
      axisLine: { show: false, onZero: false },
      axisTick: { length: 3, lineStyle: { color: '#333', width: 1.1 }, customValues: ratioTicks },
      axisLabel: { fontSize: 12.3, color: '#404040', margin: 6, customValues: ratioTicks, formatter: minusFormat(1) },
      splitLine: { show: true, lineStyle: { color: '#fff', width: 1.4 } }
    },
    { gridIndex: 2, type: 'value', min: 0, max: 1, show: false },
    { gridIndex: 3, type: 'value', min: 0, max: 1, show: false }
  ],
  yAxis: [
    {
      gridIndex: 0, type: 'category', data: allGenes, inverse: true,
      axisLine: { show: false }, axisTick: { show: false },
      axisLabel: { interval: 0, fontSize: 13.8, color: '#222', margin: 8.5 }
    },
    {
      gridIndex: 1, type: 'value', min: 1.365, max: 8.57,
      name: '\u2212log10(p)', nameLocation: 'middle', nameGap: 19, nameRotate: 90,
      nameTextStyle: { fontSize: 15.3, color: '#000' },
      axisLine: { show: false, onZero: false },
      axisTick: { length: 3, lineStyle: { color: '#333', width: 1.1 }, customValues: pTicks },
      axisLabel: { fontSize: 12, color: '#404040', margin: 6, customValues: pTicks, formatter: minusFormat(null) },
      splitLine: { show: true, lineStyle: { color: '#fff', width: 1.4 } }
    },
    {
      gridIndex: 2, type: 'value', min: -1.05, max: 1.05, position: 'right', z: 10,
      axisLine: { show: false, onZero: false },
      axisTick: { inside: true, length: 6, lineStyle: { color: '#fff', width: 1 }, customValues: zTicks },
      axisLabel: { fontSize: 16.5, color: '#000', margin: 9, customValues: zTicks, formatter: minusFormat(1) },
      splitLine: { show: false }
    },
    {
      gridIndex: 2, type: 'value', min: -1.05, max: 1.05, position: 'left', z: 10,
      axisLine: { show: false, onZero: false },
      axisTick: { inside: true, length: 6, lineStyle: { color: '#fff', width: 1 }, customValues: zTicks },
      axisLabel: { show: false },
      splitLine: { show: false }
    },
    {
      gridIndex: 3, type: 'value', min: ratioMin, max: ratioMax, position: 'right', z: 10,
      axisLine: { show: false, onZero: false },
      axisTick: { inside: true, length: 5, lineStyle: { color: '#fff', width: 1 }, customValues: legendRatioTicks },
      axisLabel: { fontSize: 13, color: '#000', margin: 8, customValues: legendRatioTicks, formatter: minusFormat(1) },
      splitLine: { show: false }
    },
    {
      gridIndex: 3, type: 'value', min: ratioMin, max: ratioMax, position: 'left', z: 10,
      axisLine: { show: false, onZero: false },
      axisTick: { inside: true, length: 5, lineStyle: { color: '#fff', width: 1 }, customValues: legendRatioTicks },
      axisLabel: { show: false },
      splitLine: { show: false }
    }
  ],
  visualMap: [
    {
      type: 'continuous', seriesIndex: 0, min: -1.05, max: 1.05, calculable: false, padding: 0,
      left: 771, top: 295, itemWidth: 31, itemHeight: 151,
      inRange: { color: ['#0030c4', '#ffffff', '#f40000'] }
    },
    {
      type: 'continuous', seriesIndex: 2, dimension: 0, min: ratioMin, max: ratioMax, calculable: false, padding: 0,
      left: 775.7, top: 936.7, itemWidth: 25, itemHeight: 123.6,
      inRange: { color: ratioStops }
    }
  ],
  series: [
    {
      type: 'heatmap', xAxisIndex: 0, yAxisIndex: 0, data: heatData, progressive: 0,
      itemStyle: { borderColor: 'rgba(255,255,255,0.85)', borderWidth: 0.6 },
      emphasis: { disabled: true }
    },
    {
      // yellow bars between the early and advanced samples and the up and down genes
      type: 'custom', xAxisIndex: 0, yAxisIndex: 0, z: 5, silent: true,
      data: [[6, 25]],
      renderItem: function (params, api) {
        var cell = api.size([1, 1]);
        var at = api.coord([api.value(0), api.value(1)]);
        var box = params.coordSys;
        return {
          type: 'group',
          children: [
            { type: 'rect', shape: { x: at[0] - cell[0] / 2 - 1, y: box.y, width: 4.7, height: box.height }, style: { fill: '#ffff14' } },
            { type: 'rect', shape: { x: box.x, y: at[1] - cell[1] / 2 - 1.3, width: box.width, height: 5.6 }, style: { fill: '#ffff14' } }
          ]
        };
      }
    },
    {
      type: 'scatter', xAxisIndex: 1, yAxisIndex: 1, z: 3, data: scatterData, symbolSize: 7.6, progressive: 0, silent: true,
      markLine: {
        silent: true, symbol: 'none', z: 1, animation: false, label: { show: false },
        lineStyle: { color: '#fff', width: 0.7, type: 'solid' },
        data: ratioMinor.map(function (v) { return { xAxis: v }; }).concat(pMinor.map(function (v) { return { yAxis: v }; }))
      }
    },
    {
      type: 'lines', coordinateSystem: 'cartesian2d', xAxisIndex: 1, yAxisIndex: 1, z: 4, silent: true,
      data: leaderData, lineStyle: { width: 1.3, opacity: 1 }
    },
    {
      type: 'scatter', xAxisIndex: 1, yAxisIndex: 1, z: 5, data: labelData, symbolSize: 1, silent: true,
      itemStyle: { opacity: 0 },
      label: { show: true, position: 'inside', formatter: '{b}', fontSize: 15.4, opacity: 1 }
    },
    { type: 'scatter', xAxisIndex: 2, yAxisIndex: 2, data: [] },
    { type: 'scatter', xAxisIndex: 2, yAxisIndex: 3, data: [] },
    { type: 'scatter', xAxisIndex: 3, yAxisIndex: 4, data: [] },
    { type: 'scatter', xAxisIndex: 3, yAxisIndex: 5, data: [] }
  ]
};

var chart = echarts.init(document.getElementById('main'), null, { renderer: 'canvas' });
chart.setOption(option);
</script>
</body>
</html>
